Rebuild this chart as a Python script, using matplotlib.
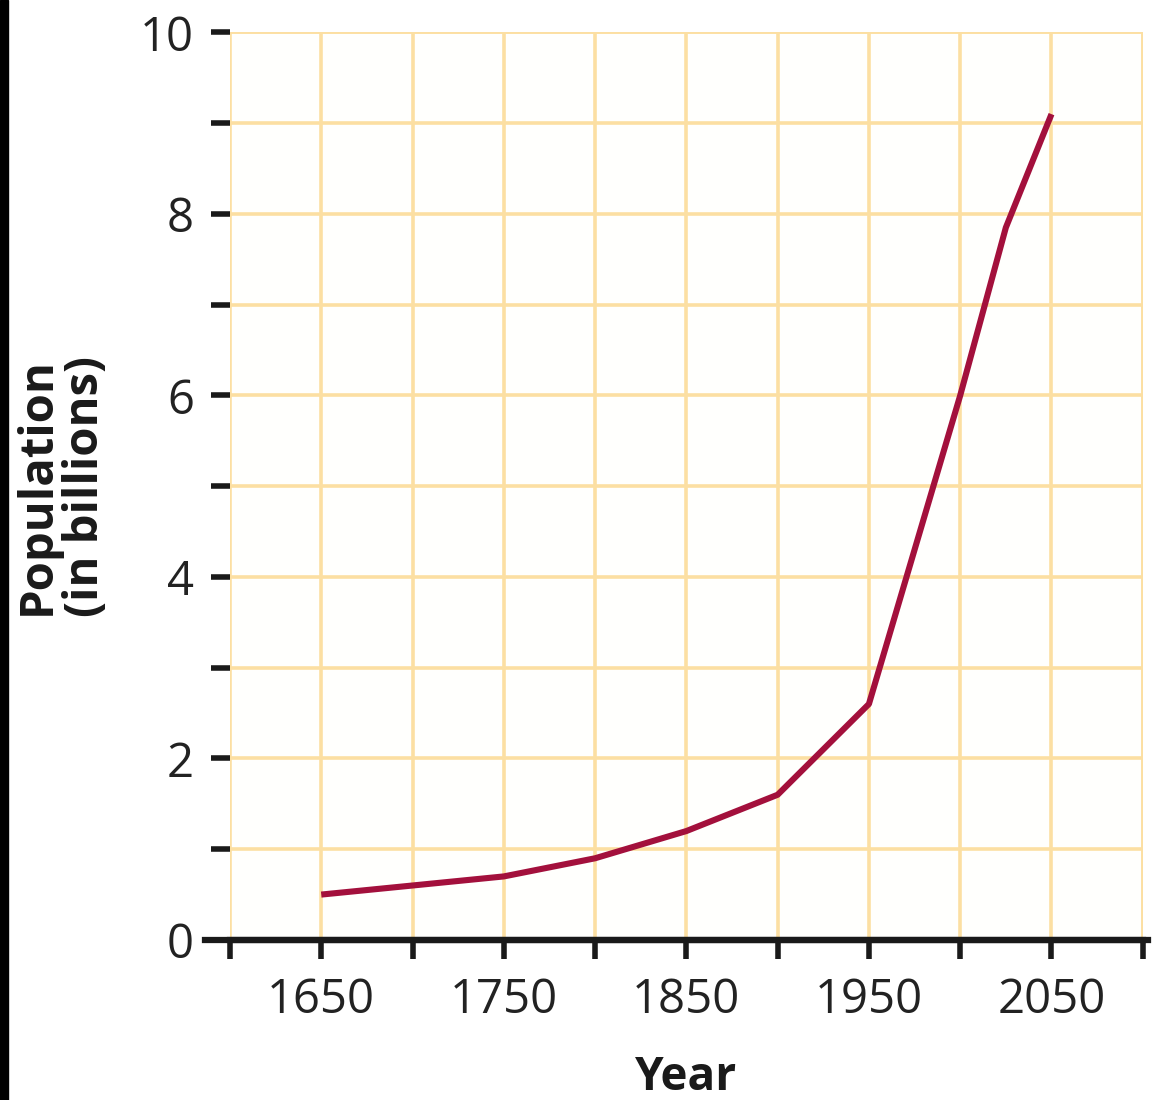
import matplotlib
matplotlib.use("Agg")
import matplotlib.pyplot as plt
from matplotlib.lines import Line2D
import numpy as np

# data
years = [1650, 1700, 1750, 1800, 1850, 1900, 1950, 2000, 2025, 2050]
population = [0.5, 0.6, 0.7, 0.9, 1.2, 1.6, 2.6, 6.0, 7.85, 9.1]
xtick_labels = ["1650", "1750", "1850", "1950", "2050"]
xtick_label_pos = [1650, 1750, 1850, 1950, 2050]
ytick_labels = ["0", "2", "4", "6", "8", "10"]
ytick_label_pos = [0, 2, 4, 6, 8, 10]

plt.rcParams['font.family'] = ['Open Sans', 'DejaVu Sans']

grid_col = '#FCDFA2'
line_col = '#A3103C'

fig = plt.figure(figsize=(11.59, 11.0), dpi=100)
fig.patch.set_facecolor('white')
ax = fig.add_axes([0.1984, 0.1455, 0.7876, 0.825])
ax.set_facecolor('#FFFFFD')

ax.set_xlim(1600, 2100)
ax.set_ylim(0, 10)

# grid every 50 years / 1 billion
ax.set_xticks(np.arange(1600, 2101, 50))
ax.set_yticks(np.arange(0, 11, 1))
ax.grid(True, color=grid_col, linewidth=2.6, zorder=0)
ax.set_axisbelow(True)

ax.plot(years, population, color=line_col, linewidth=4.4,
        solid_capstyle='butt', zorder=3)

# tick labels only on some ticks
ax.set_xticklabels([str(int(t)) if int(t) in xtick_label_pos else ""
                    for t in ax.get_xticks()])
ax.set_yticklabels([str(int(t)) if int(t) in ytick_label_pos else ""
                    for t in ax.get_yticks()])

ax.tick_params(axis='x', direction='out', length=14, width=4, color='#1a1a1a',
               labelsize=34, pad=12, labelcolor='#222222')
ax.tick_params(axis='y', direction='out', length=14, width=4, color='#1a1a1a',
               labelsize=34, pad=12, labelcolor='#222222')

for s in ['top', 'right', 'left']:
    ax.spines[s].set_visible(False)
ax.spines['bottom'].set_linewidth(4.5)
ax.spines['bottom'].set_color('#1a1a1a')
# extend the base line a bit past the plot area like in the original
ax.add_line(Line2D([-0.027, 1.006], [0, 0], transform=ax.transAxes,
                   color='#1a1a1a', linewidth=4.5, clip_on=False, zorder=4))

# right / top grid edges
ax.axvline(2100, color=grid_col, linewidth=2.6, zorder=0)
ax.axhline(10, color=grid_col, linewidth=2.6, zorder=0)

ax.set_xlabel("Year", fontsize=33, fontweight='bold', labelpad=22, color='#1a1a1a')
ax.set_ylabel("Population\n(in billions)", fontsize=34, fontweight='bold',
              labelpad=22, color='#1a1a1a', linespacing=1.05)

# black strip on the left edge of the source image
fig.add_artist(plt.Rectangle((0, 0), 0.007, 1, transform=fig.transFigure,
                             color='black', zorder=10))

fig.savefig("out.png", dpi=100)
